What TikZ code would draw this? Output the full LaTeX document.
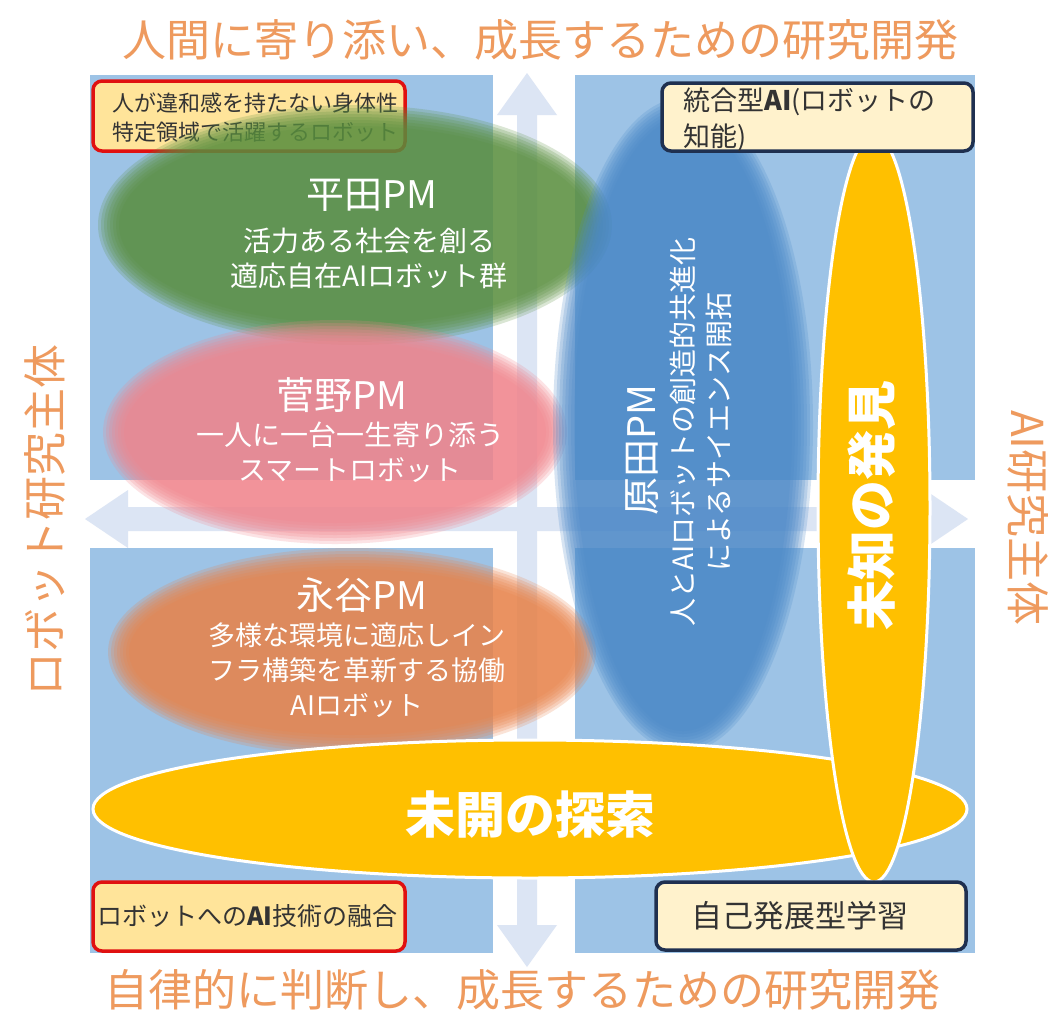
\documentclass[tikz,border=0pt]{standalone}
\usepackage{fontspec}
\setmainfont{Noto Sans CJK JP}
\definecolor{quad}{HTML}{9DC3E6}
\definecolor{pale}{HTML}{DCE5F4}
\definecolor{ttlc}{HTML}{EE9A5E}
\definecolor{grn}{HTML}{5A8F3F}
\definecolor{pnk}{HTML}{F2848C}
\definecolor{org}{HTML}{E9834A}
\definecolor{blu}{HTML}{4A88C8}
\definecolor{ylw}{HTML}{FFC000}
\definecolor{redb}{HTML}{E01010}
\definecolor{navyb}{HTML}{1F3050}
\definecolor{boxy}{HTML}{FFE49A}
\definecolor{boxc}{HTML}{FFF2CC}
\definecolor{dtext}{HTML}{333333}
\newcommand\softell[5]{%
  \foreach \k in {0,...,7}{%
    \fill[#5, opacity=0.22] (#1,#2) ellipse [x radius={#3+12-3*\k}, y radius={#4+12-3*\k}];
  }}
\tikzset{
  ttl/.style={text=ttlc, inner sep=0pt, font=\fontsize{44}{50}\selectfont},
  pmtitle/.style={text=white, inner sep=0pt, font=\fontsize{38}{44}\selectfont},
  pmsub/.style={text=white, inner sep=0pt, align=center, font=\fontsize{28}{35}\selectfont},
  bigw/.style={text=white, inner sep=0pt, font=\fontsize{50}{56}\selectfont\bfseries},
  redbox/.style={draw=redb, line width=3.5pt, fill=boxy, rounded corners=9pt},
  navybox/.style={draw=navyb, line width=3.5pt, fill=boxc, rounded corners=9pt},
  boxtext/.style={text=dtext, inner sep=0pt, align=left},
  yell/.style={fill=ylw, draw=white, line width=3pt}
}
\begin{document}
\begin{tikzpicture}[x=1pt,y=-1pt]
\useasboundingbox (0,0) rectangle (1052,1018);
\fill[white] (0,0) rectangle (1052,1018);
% quadrants
\fill[quad] (90,75) rectangle (493,480);
\fill[quad] (575,75) rectangle (975,480);
\fill[quad] (90,548) rectangle (493,953);
\fill[quad] (575,548) rectangle (975,953);
% axis arrows
\fill[pale] (527,73) -- (557,115) -- (537,115) -- (537,925) -- (557,925) -- (527,967)
  -- (497,925) -- (517,925) -- (517,115) -- (497,115) -- cycle;
\fill[pale] (85,519) -- (128,490) -- (128,507) -- (925,507) -- (925,490) -- (968,519)
  -- (925,548) -- (925,531) -- (128,531) -- (128,548) -- cycle;
% top-left box (under the green ellipse)
\draw[redbox] (93,81) rectangle (405,151);
\node[boxtext, anchor=west, font=\fontsize{22}{29}\selectfont] (tlt) at (112,118)
  {人が違和感を持たない身体性\\特定領域で活躍するロボット};
% soft ellipses
\softell{355}{225}{245}{108}{grn}
\softell{335}{432}{220}{100}{pnk}
\softell{352}{652}{232}{92}{org}
\softell{683}{425}{118}{315}{blu}
% yellow ellipses
\fill[yell] (530,809) ellipse [x radius=437, y radius=69];
\fill[yell] (874,508) ellipse [x radius=56, y radius=374];
% other boxes
\draw[navybox] (662,83) rectangle (973,151);
\node[boxtext, anchor=north west, font=\fontsize{27}{36}\selectfont] (trt) at (683,88)
  {統合型\textbf{AI}(ロボットの\\知能)};
\draw[redbox] (93,882) rectangle (405,951);
\node[boxtext, anchor=west, font=\fontsize{25}{30}\selectfont] (blt) at (97,916)
  {ロボットへの\textbf{AI}技術の融合};
\draw[navybox] (656,882) rectangle (966,950);
\node[boxtext, font=\fontsize{31}{36}\selectfont] (brt) at (800,916) {自己発展型学習};
% PM texts
\node[pmtitle] (hirata) at (372,195) {平田PM};
\node[pmsub] (hiratas) at (369,258) {活力ある社会を創る\\適応自在AIロボット群};
\node[pmtitle] (sugano) at (342,395) {菅野PM};
\node[pmsub] (suganos) at (350,452) {一人に一台一生寄り添う\\スマートロボット};
\node[pmtitle] (nagatani) at (362,595) {永谷PM};
\node[pmsub, font=\fontsize{27}{35}\selectfont] (nagatanis) at (357,670)
  {多様な環境に適応しイン\\フラ構築を革新する協働\\AIロボット};
\node[pmtitle, rotate=90] (harada) at (642,450) {原田PM};
\node[pmsub, rotate=90, font=\fontsize{28}{36}\selectfont] (haradas) at (701,432)
  {人とAIロボットの創造的共進化\\によるサイエンス開拓};
% big labels
\node[bigw] (mikai) at (530,815) {未開の探索};
\node[bigw, rotate=90] (michi) at (872,505) {未知の発見};
% axis titles
\node[ttl] (top) at (540,40) {人間に寄り添い、成長するための研究開発};
\node[ttl] (bottom) at (522,990) {自律的に判断し、成長するための研究開発};
\node[ttl, rotate=90] (left) at (45,520) {ロボット研究主体};
\node[ttl, rotate=-90] (right) at (1028,518) {AI研究主体};
\end{tikzpicture}
\end{document}
